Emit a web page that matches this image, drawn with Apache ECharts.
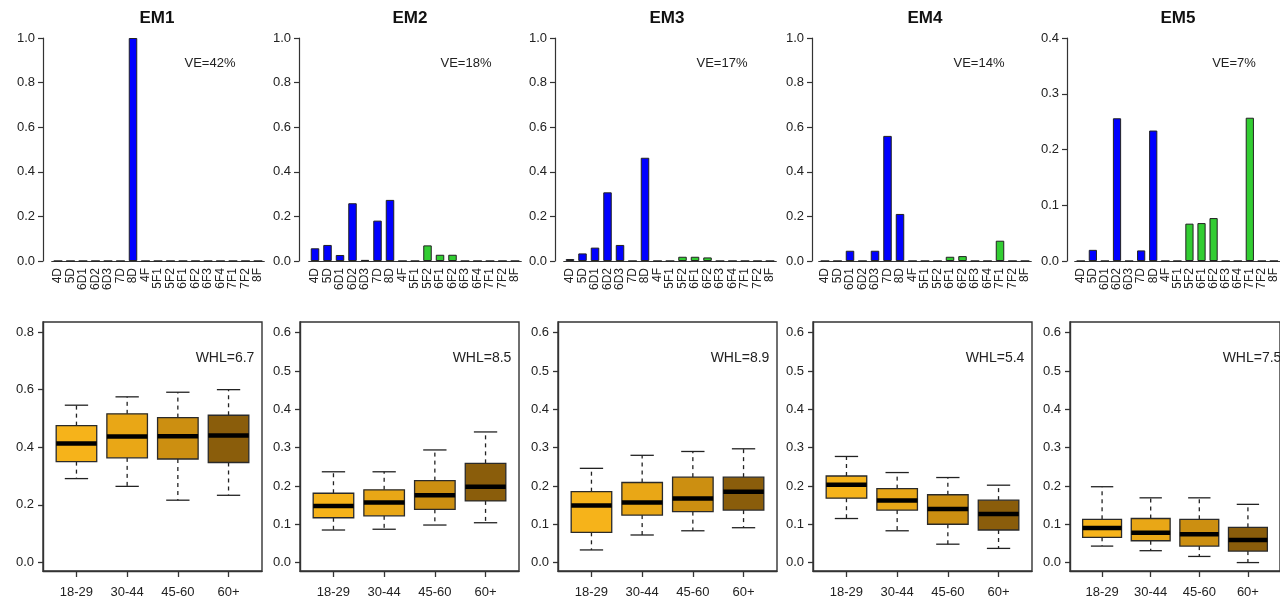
<!DOCTYPE html>
<html>
<head>
<meta charset="utf-8">
<script src="https://cdn.jsdelivr.net/npm/echarts@6/dist/echarts.min.js"></script>
<style>
  html, body { margin: 0; padding: 0; background: #fff; }
  #chart { width: 1280px; height: 599px; }
</style>
</head>
<body>
<div id="chart"></div>
<script>
// ---- data ----
const categories = ['4D', '5D', '6D1', '6D2', '6D3', '7D', '8D', '4F', '5F1', '5F2', '6F1', '6F2', '6F3', '6F4', '7F1', '7F2', '8F']
const panelNames = ['EM1', 'EM2', 'EM3', 'EM4', 'EM5']
const veLabels = ['VE=42%', 'VE=18%', 'VE=17%', 'VE=14%', 'VE=7%']
const whlLabels = ['WHL=6.7', 'WHL=8.5', 'WHL=8.9', 'WHL=5.4', 'WHL=7.5']

// loadings per category (top row)
const em1Loadings = [0, 0, 0, 0, 0, 0, 1.0, 0, 0, 0, 0, 0, 0, 0, 0, 0, 0]
const em2Loadings = [0.057, 0.072, 0.027, 0.259, 0.005, 0.181, 0.274, 0, 0, 0.070, 0.028, 0.028, 0, 0, 0, 0, 0]
const em3Loadings = [0.009, 0.034, 0.060, 0.308, 0.072, 0, 0.463, 0, 0, 0.019, 0.019, 0.016, 0, 0, 0, 0, 0]
const em4Loadings = [0, 0, 0.046, 0, 0.046, 0.561, 0.211, 0, 0, 0, 0.019, 0.022, 0, 0, 0.091, 0, 0]
const em5Loadings = [0, 0.020, 0, 0.256, 0, 0.019, 0.234, 0, 0, 0.067, 0.068, 0.077, 0, 0, 0.257, 0, 0]
const topMax = [1.0, 1.0, 1.0, 1.0, 0.4]
const topInterval = [0.2, 0.2, 0.2, 0.2, 0.1]

// bottom row: age groups, box stats [lower whisker, Q1, median, Q3, upper whisker]
const ageGroups = ['18-29', '30-44', '45-60', '60+']
const em1Box = [[0.291, 0.350, 0.413, 0.475, 0.546], [0.264, 0.363, 0.437, 0.516, 0.575], [0.216, 0.359, 0.438, 0.503, 0.591], [0.233, 0.347, 0.441, 0.511, 0.600]]
const em2Box = [[0.085, 0.117, 0.148, 0.181, 0.237], [0.087, 0.122, 0.157, 0.190, 0.237], [0.098, 0.139, 0.176, 0.214, 0.294], [0.104, 0.161, 0.198, 0.259, 0.341]]
const em3Box = [[0.033, 0.079, 0.149, 0.185, 0.246], [0.072, 0.124, 0.157, 0.209, 0.280], [0.083, 0.133, 0.167, 0.223, 0.290], [0.091, 0.137, 0.185, 0.223, 0.297]]
const em4Box = [[0.115, 0.168, 0.203, 0.226, 0.277], [0.083, 0.137, 0.162, 0.193, 0.235], [0.048, 0.100, 0.140, 0.177, 0.222], [0.037, 0.085, 0.127, 0.163, 0.202]]
const em5Box = [[0.043, 0.066, 0.090, 0.113, 0.198], [0.031, 0.057, 0.078, 0.115, 0.169], [0.016, 0.043, 0.074, 0.113, 0.169], [0.000, 0.030, 0.059, 0.092, 0.152]]
const boxTicks08 = [0, 0.2, 0.4, 0.6, 0.8]
const boxTicks06 = [0, 0.1, 0.2, 0.3, 0.4, 0.5, 0.6]
const groupPos = [1, 2, 3, 4]

const loadings = [em1Loadings, em2Loadings, em3Loadings, em4Loadings, em5Loadings]
const boxes = [em1Box, em2Box, em3Box, em4Box, em5Box]
const boxTicks = [boxTicks08, boxTicks06, boxTicks06, boxTicks06, boxTicks06]

// ---- layout / style ----
const axisX = [43, 299, 555, 812, 1067]        // top y-axis line
const firstCat = [58, 315, 570, 825, 1081]     // first bar center
const band = 12.5
const frameLeft = [43, 300, 558, 813, 1070]
const frameWidth = 219
const titleX = [157, 410, 667, 925, 1178]
const blue = '#0000ff'
const green = '#32cd32'
const boxColors = ['#f6b31a', '#e9a716', '#cc8f11', '#8a5d0b']
const ink = '#333'
const font = 'Arial, "Liberation Sans", sans-serif'

const chart = echarts.init(document.getElementById('chart'))

const grid = []
const xAxis = []
const yAxis = []
const series = []
const graphic = []

panelNames.forEach((name, i) => {
  // top bar chart
  const gl = firstCat[i] - band / 2
  grid.push({ left: gl, top: 38, width: band * categories.length, height: 223 })
  xAxis.push({
    type: 'category', gridIndex: 2 * i, data: categories,
    axisLine: { lineStyle: { color: ink, width: 1.2 } },
    axisTick: { alignWithLabel: true, length: 5, lineStyle: { color: ink, width: 1.2 } },
    axisLabel: { interval: 0, rotate: 90, fontSize: 12, color: '#222', fontFamily: font, margin: 7 }
  })
  yAxis.push({
    type: 'value', gridIndex: 2 * i, min: 0, max: topMax[i], interval: topInterval[i],
    offset: gl - axisX[i],
    axisLine: { show: true, lineStyle: { color: ink, width: 1.2 } },
    axisTick: { show: true, length: 5, lineStyle: { color: ink, width: 1.2 } },
    axisLabel: { fontSize: 13, color: '#222', fontFamily: font, margin: 8, formatter: v => v.toFixed(1) },
    splitLine: { show: false }
  })
  series.push({
    type: 'bar', xAxisIndex: 2 * i, yAxisIndex: 2 * i,
    data: loadings[i], barWidth: '68%',
    itemStyle: {
      color: p => (categories[p.dataIndex].indexOf('F') >= 0 ? green : blue),
      borderColor: '#222', borderWidth: 1
    },
    silent: true
  })

  // bottom box plot
  const ticks = boxTicks[i]
  grid.push({ left: frameLeft[i], top: 322, width: frameWidth, height: 249, show: true, borderColor: ink, borderWidth: 1.4 })
  xAxis.push({
    type: 'value', gridIndex: 2 * i + 1, min: 0.34, max: 4.66, position: 'bottom',
    axisLine: { show: true, onZero: false, lineStyle: { color: ink, width: 1.4 } },
    axisTick: { show: true, length: 6, customValues: groupPos, lineStyle: { color: ink, width: 1.3 } },
    axisLabel: { customValues: groupPos, formatter: v => ageGroups[Math.round(v) - 1], fontSize: 13, color: '#222', fontFamily: font, margin: 15 },
    splitLine: { show: false }
  })
  yAxis.push({
    type: 'value', gridIndex: 2 * i + 1,
    min: i === 0 ? -0.03 : -0.022, max: i === 0 ? 0.835 : 0.628,
    axisLine: { show: true, onZero: false, lineStyle: { color: ink, width: 1.4 } },
    axisTick: { show: true, length: 5, customValues: ticks, lineStyle: { color: ink, width: 1.3 } },
    axisLabel: { customValues: ticks, fontSize: 13, color: '#222', fontFamily: font, margin: 9, formatter: v => v.toFixed(1) },
    splitLine: { show: false }
  })
  series.push({
    type: 'custom', xAxisIndex: 2 * i + 1, yAxisIndex: 2 * i + 1,
    data: boxes[i].map((b, k) => [groupPos[k]].concat(b)),
    silent: true,
    renderItem: (params, api) => {
      const x = api.value(0)
      const pLow = api.coord([x, api.value(1)])
      const pQ1 = api.coord([x, api.value(2)])
      const pMed = api.coord([x, api.value(3)])
      const pQ3 = api.coord([x, api.value(4)])
      const pHigh = api.coord([x, api.value(5)])
      const hw = api.size([0.8, 0])[0] / 2
      const cw = api.size([0.46, 0])[0] / 2
      const cx = pMed[0]
      const lineStyle = { stroke: '#222', lineWidth: 1.3 }
      return {
        type: 'group',
        children: [
          { type: 'line', shape: { x1: cx, y1: pQ3[1], x2: cx, y2: pHigh[1] }, style: Object.assign({ lineDash: [4, 4] }, lineStyle) },
          { type: 'line', shape: { x1: cx, y1: pQ1[1], x2: cx, y2: pLow[1] }, style: Object.assign({ lineDash: [4, 4] }, lineStyle) },
          { type: 'line', shape: { x1: cx - cw, y1: pHigh[1], x2: cx + cw, y2: pHigh[1] }, style: lineStyle },
          { type: 'line', shape: { x1: cx - cw, y1: pLow[1], x2: cx + cw, y2: pLow[1] }, style: lineStyle },
          { type: 'rect', shape: { x: cx - hw, y: pQ3[1], width: 2 * hw, height: pQ1[1] - pQ3[1] }, style: { fill: boxColors[params.dataIndex], stroke: '#2a2a2a', lineWidth: 1.3 } },
          { type: 'line', shape: { x1: cx - hw, y1: pMed[1], x2: cx + hw, y2: pMed[1] }, style: { stroke: '#000', lineWidth: 4.5 } }
        ]
      }
    }
  })

  // texts
  graphic.push({ type: 'text', x: titleX[i], y: 18, style: { text: name, font: 'bold 17px ' + font, fill: '#111', textAlign: 'center', textVerticalAlign: 'middle' } })
  graphic.push({ type: 'text', x: axisX[i] + 167, y: 63, style: { text: veLabels[i], font: '13px ' + font, fill: '#222', textAlign: 'center', textVerticalAlign: 'middle' } })
  graphic.push({ type: 'text', x: frameLeft[i] + 182, y: 358, style: { text: whlLabels[i], font: '14px ' + font, fill: '#222', textAlign: 'center', textVerticalAlign: 'middle' } })
})

chart.setOption({
  animation: false,
  grid: grid,
  xAxis: xAxis,
  yAxis: yAxis,
  series: series,
  graphic: graphic
})
</script>
</body>
</html>
